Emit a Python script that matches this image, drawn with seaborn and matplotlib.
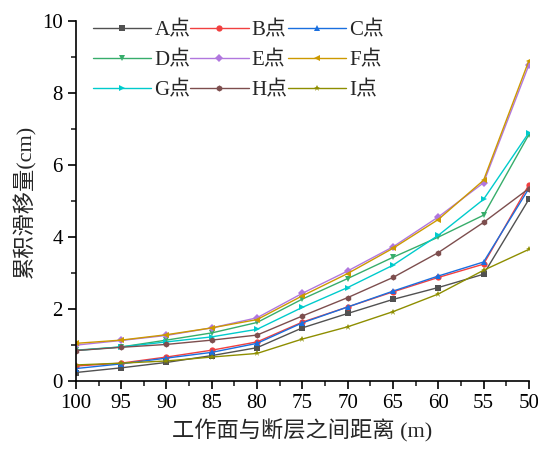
import pandas as pd
import seaborn as sns
import matplotlib.pyplot as plt
from matplotlib.ticker import MultipleLocator

distance = [100, 95, 90, 85, 80, 75, 70, 65, 60, 55, 50]
labels = ['A点', 'B点', 'C点', 'D点', 'E点', 'F点', 'G点', 'H点', 'I点']
slip = {
    'A点': [0.24, 0.37, 0.52, 0.71, 0.93, 1.48, 1.88, 2.27, 2.60, 2.97, 5.05],
    'B点': [0.42, 0.50, 0.67, 0.86, 1.09, 1.64, 2.06, 2.48, 2.88, 3.25, 5.45],
    'C点': [0.35, 0.48, 0.64, 0.80, 1.05, 1.62, 2.06, 2.50, 2.92, 3.31, 5.35],
    'D点': [0.86, 0.95, 1.14, 1.34, 1.63, 2.28, 2.85, 3.44, 4.00, 4.61, 6.85],
    'E点': [1.00, 1.13, 1.27, 1.48, 1.76, 2.44, 3.06, 3.73, 4.56, 5.51, 8.78],
    'F点': [1.05, 1.14, 1.29, 1.48, 1.71, 2.37, 2.99, 3.69, 4.49, 5.58, 8.90],
    'G点': [0.85, 0.95, 1.09, 1.23, 1.44, 2.05, 2.60, 3.22, 4.05, 5.05, 6.90],
    'H点': [0.85, 0.94, 1.02, 1.14, 1.28, 1.81, 2.32, 2.88, 3.57, 4.41, 5.35],
    'I点': [0.45, 0.50, 0.56, 0.67, 0.77, 1.17, 1.51, 1.93, 2.42, 3.08, 3.66],
}

colors = [
    "#515151",  # gray
    "#f14040",  # red
    "#1a6fdf",  # blue
    "#37ad6b",  # green
    "#b177de",  # purple
    "#cc9900",  # orange
    "#00cbcc",  # cyan
    "#7d4e4e",  # brown
    "#8e8e00",  # olive
]
markers = ['s', 'o', '^', 'v', 'D', '<', '>', 'h', '*']

rows = []
for name in labels:
    for d, v in zip(distance, slip[name]):
        rows.append({'dist': d, 'slip': v, 'point': name})
df = pd.DataFrame(rows)

sns.set_theme(style="ticks")
plt.rcParams['font.family'] = ['Liberation Serif', 'Noto Sans CJK SC']
plt.rcParams['axes.unicode_minus'] = False

fig = plt.figure(figsize=(5.38, 4.5), dpi=100)
ax = fig.add_axes([0.141, 0.153, 0.842, 0.80])
sns.lineplot(data=df, x='dist', y='slip', hue='point', style='point',
             palette=colors, markers=markers, dashes=False, hue_order=labels,
             style_order=labels, linewidth=1.0, markersize=4.5,
             markeredgewidth=0, ax=ax)

ax.set_xlim(100, 50)
ax.set_ylim(0, 10)
ax.xaxis.set_major_locator(MultipleLocator(5))
ax.xaxis.set_minor_locator(MultipleLocator(2.5))
ax.yaxis.set_major_locator(MultipleLocator(2))
ax.yaxis.set_minor_locator(MultipleLocator(1))
ax.tick_params(axis='both', which='major', labelsize=15, length=6, width=1.2,
               direction='out', colors='black')
ax.tick_params(axis='both', which='minor', length=3.5, width=1.2, direction='out')
for s in ['left', 'bottom']:
    ax.spines[s].set_linewidth(1.2)
    ax.spines[s].set_color('black')
sns.despine(ax=ax)

ax.set_xlabel('工作面与断层之间距离 (m)', fontsize=16)
ax.set_ylabel('累积滑移量(cm)', fontsize=16, labelpad=4)

# row-major legend order: A B C / D E F / G H I
handles, names = ax.get_legend_handles_labels()
order = [0, 3, 6, 1, 4, 7, 2, 5, 8]
ax.legend([handles[i] for i in order], [names[i] for i in order],
          ncol=3, frameon=False, fontsize=15, loc='upper left',
          bbox_to_anchor=(0.0375, 1.0), borderaxespad=0, borderpad=0,
          handlelength=2.8, columnspacing=0.0, handletextpad=0.15,
          labelspacing=0.5)

fig.savefig('out.png', dpi=100)
